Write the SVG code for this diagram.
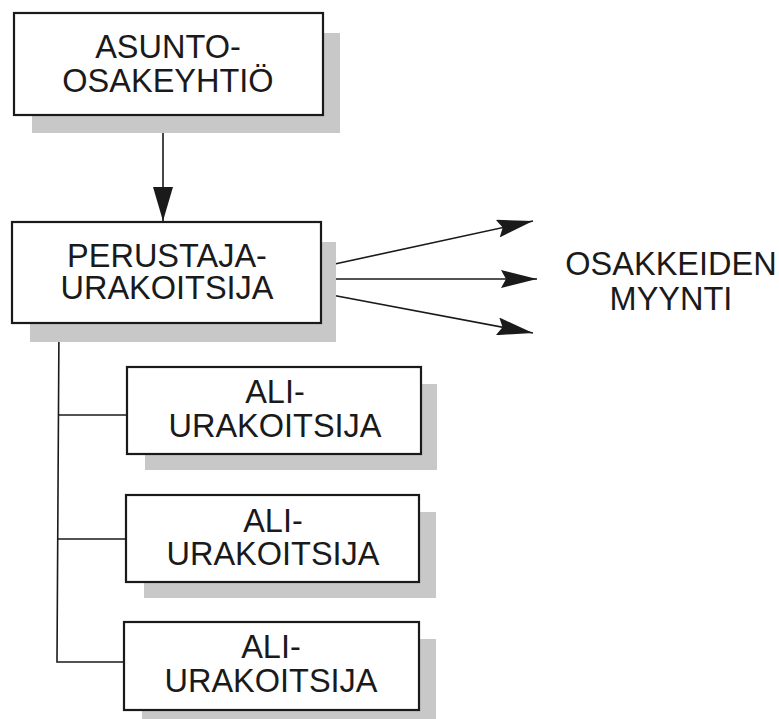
<svg xmlns="http://www.w3.org/2000/svg" width="779" height="719" viewBox="0 0 779 719">
<style>
.sh{fill:#c8c8c8}
.bx{fill:#fff;stroke:#1a1a1a;stroke-width:2.2}
.t{font-family:"Liberation Sans",Arial,sans-serif;font-size:32.5px;fill:#1a1a1a;text-anchor:middle}
.ln{stroke:#1a1a1a;stroke-width:1.6;fill:none}
</style>
<defs>
<marker id="ah" viewBox="0 0 36 18" refX="36" refY="9" markerWidth="36" markerHeight="18" markerUnits="userSpaceOnUse" orient="auto">
<path d="M0,0 L36,9 L0,18 L5,9 Z" fill="#1a1a1a"/>
</marker>
<marker id="ahd" viewBox="0 0 34 20" refX="34" refY="10" markerWidth="34" markerHeight="20" markerUnits="userSpaceOnUse" orient="auto">
<path d="M0,0 L34,10 L0,20 Z" fill="#1a1a1a"/>
</marker>
</defs>
<g id="connectors">
<line class="ln" x1="163" y1="115" x2="163" y2="221" marker-end="url(#ahd)"/>
<line class="ln" x1="321" y1="267" x2="533" y2="221" marker-end="url(#ah)"/>
<line class="ln" x1="321" y1="279" x2="537" y2="279" marker-end="url(#ah)"/>
<line class="ln" x1="321" y1="293" x2="533" y2="333" marker-end="url(#ah)"/>
<polyline class="ln" points="59,323 57,662 124,662"/>
<line class="ln" x1="58" y1="415" x2="127" y2="415"/>
<line class="ln" x1="58" y1="539" x2="126" y2="539"/>
</g>
<g id="asunto">
<rect class="sh" x="32" y="33" width="308" height="100"/>
<rect class="bx" x="14" y="13" width="309" height="102"/>
<text class="t" x="168" y="58">ASUNTO-</text>
<text class="t" x="168" y="92">OSAKEYHTIÖ</text>
</g>
<g id="perustaja">
<rect class="sh" x="30" y="242" width="306" height="100"/>
<rect class="bx" x="12" y="222" width="309" height="101"/>
<text class="t" x="167" y="267">PERUSTAJA-</text>
<text class="t" x="167" y="299">URAKOITSIJA</text>
</g>
<g id="myynti">
<text class="t" x="671" y="275">OSAKKEIDEN</text>
<text class="t" x="671" y="310">MYYNTI</text>
</g>
<g id="ali1">
<rect class="sh" x="145" y="384" width="292" height="86"/>
<rect class="bx" x="127" y="367" width="294" height="87"/>
<text class="t" x="275" y="403">ALI-</text>
<text class="t" x="275" y="437">URAKOITSIJA</text>
</g>
<g id="ali2">
<rect class="sh" x="144" y="512" width="292" height="86"/>
<rect class="bx" x="126" y="495" width="293" height="87"/>
<text class="t" x="273" y="532">ALI-</text>
<text class="t" x="273" y="565">URAKOITSIJA</text>
</g>
<g id="ali3">
<rect class="sh" x="142" y="639" width="294" height="86"/>
<rect class="bx" x="124" y="622" width="295" height="88"/>
<text class="t" x="271" y="658">ALI-</text>
<text class="t" x="271" y="692">URAKOITSIJA</text>
</g>
</svg>
